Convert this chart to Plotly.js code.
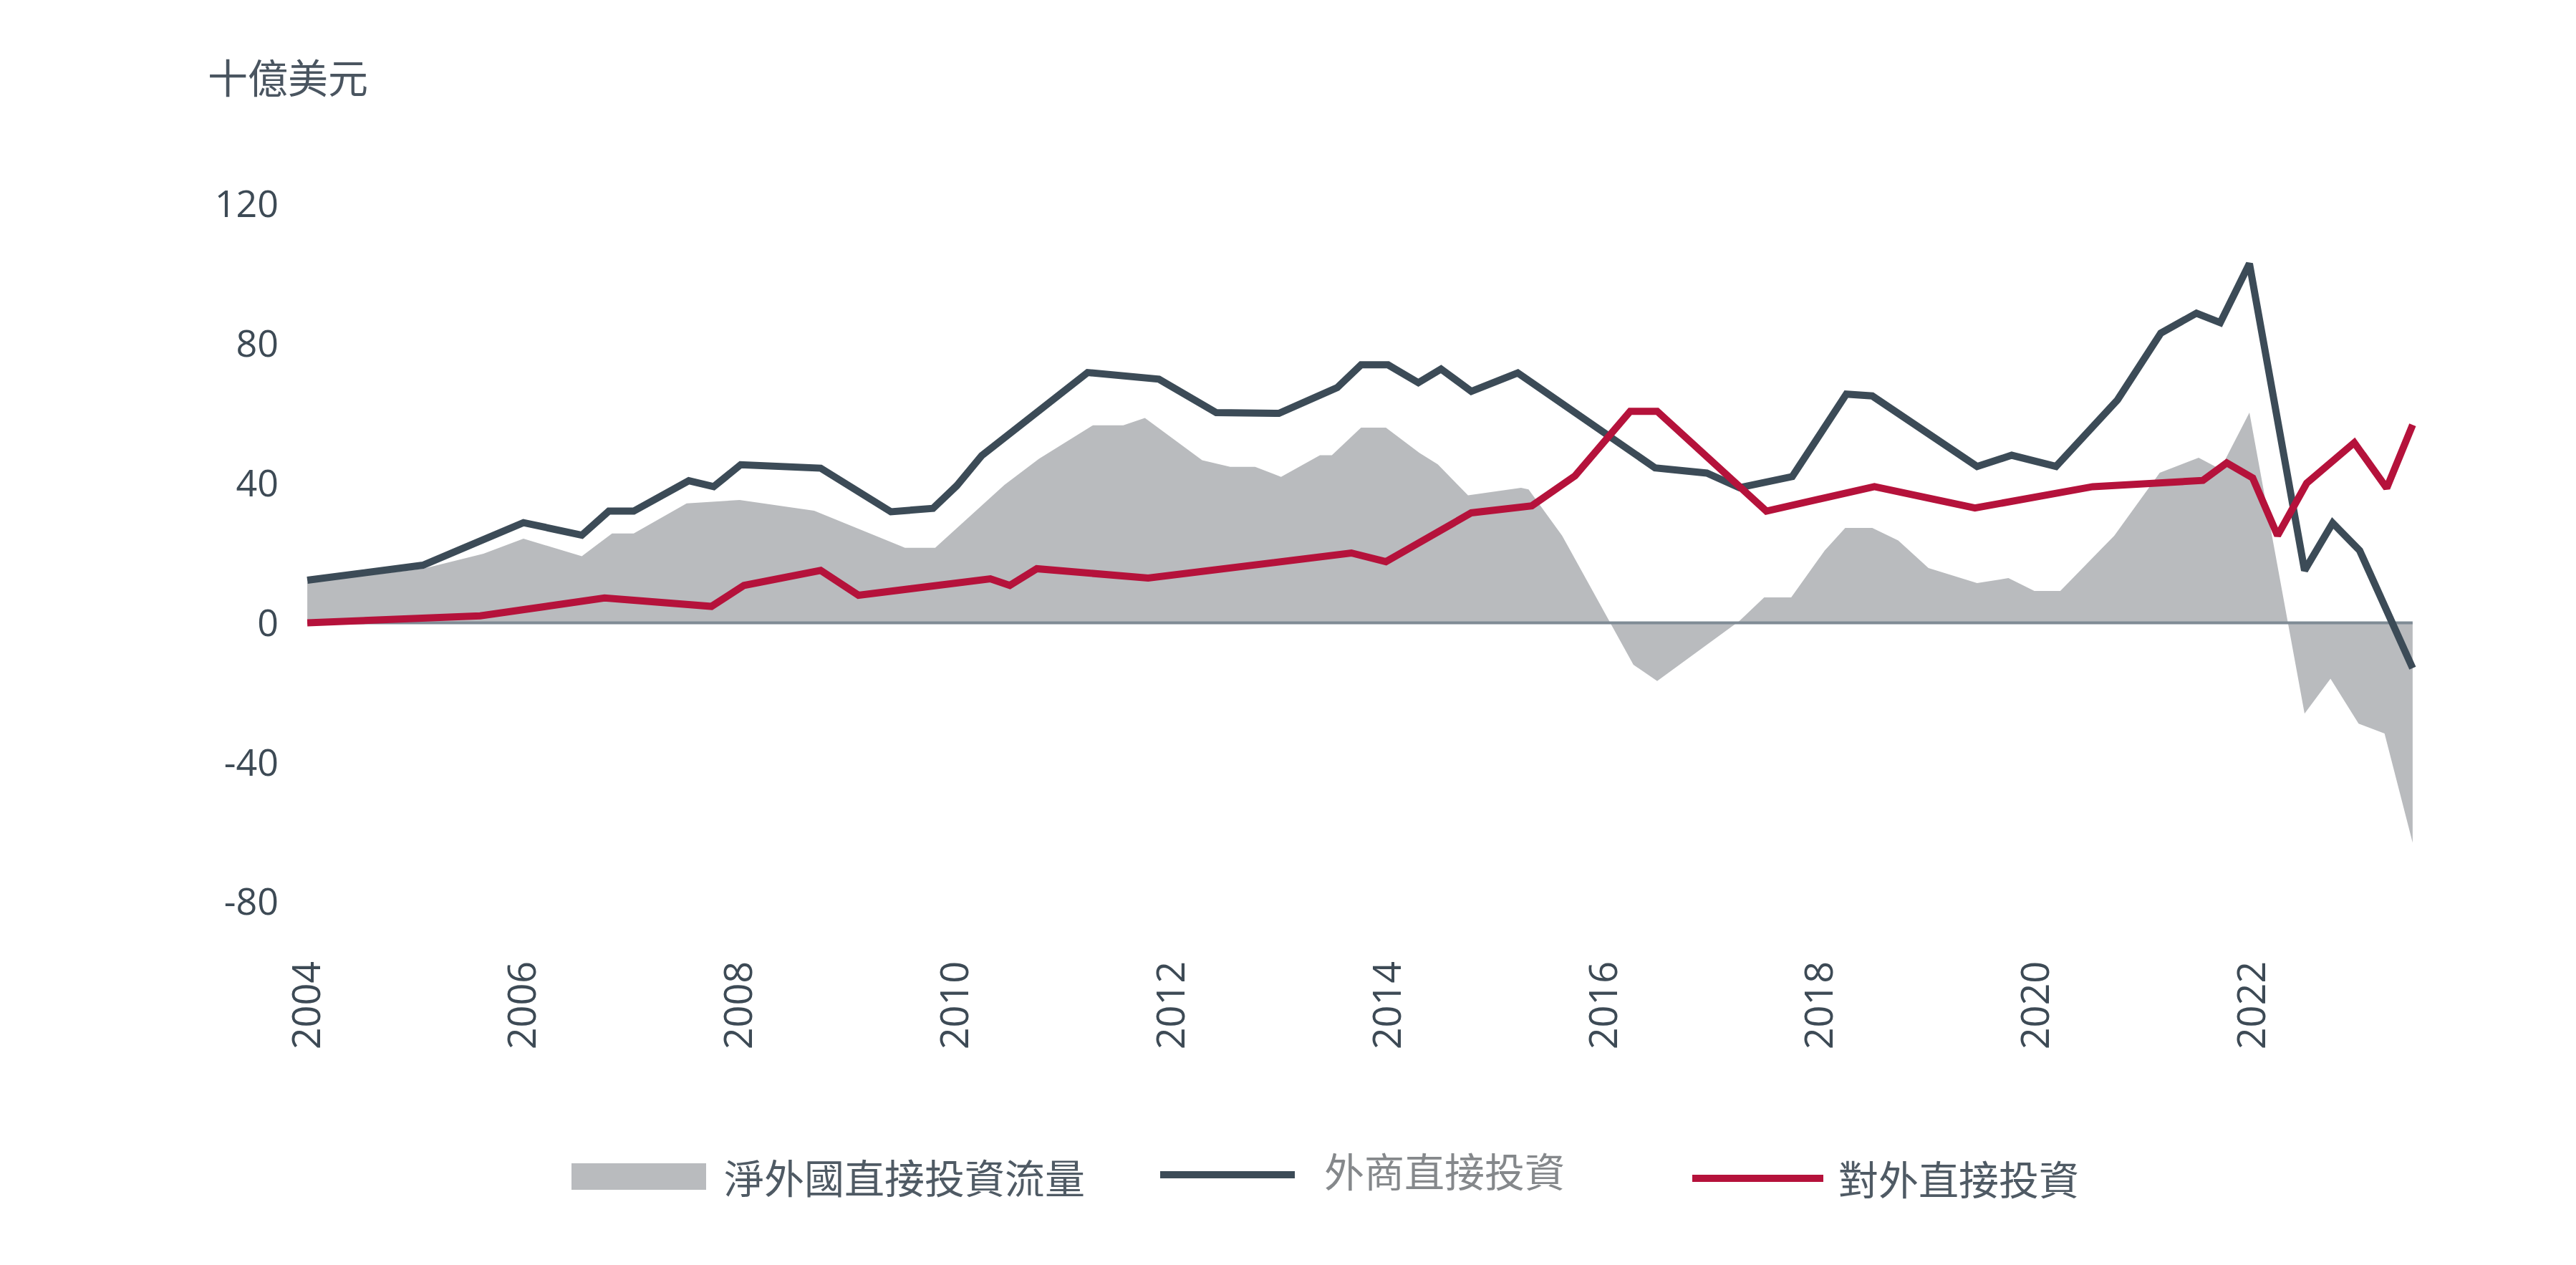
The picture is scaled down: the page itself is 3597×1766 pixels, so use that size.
<!DOCTYPE html>
<html>
<head>
<meta charset="utf-8">
<script src="https://cdn.plot.ly/plotly-3.0.1.min.js"></script>
<style>
  html, body { margin: 0; padding: 0; background: #ffffff; }
  #chart { width: 3597px; height: 1766px; }
</style>
</head>
<body>
<div id="chart"></div>
<script>
// ---- Data (billions of US$) ----
const seriesNames = ['淨外國直接投資流量', '外商直接投資', '對外直接投資'];
const unitLabel = '十億美元';

// Net FDI flow (grey area)
const netYears = [2004.0, 2005.07, 2005.63, 2006.0, 2006.54, 2006.82, 2007.02, 2007.51, 2008.0, 2008.69,
  2009.53, 2009.81, 2010.45, 2010.77, 2011.27, 2011.55, 2011.75, 2012.28, 2012.54, 2012.77,
  2013.01, 2013.37, 2013.48, 2013.75, 2013.98, 2014.29, 2014.46, 2014.74, 2015.23, 2015.3,
  2015.61, 2016.27, 2016.49, 2017.25, 2017.48, 2017.73, 2018.04, 2018.23, 2018.48, 2018.72,
  2019.0, 2019.45, 2019.74, 2019.98, 2020.22, 2020.72, 2021.14, 2021.5, 2021.7, 2021.97,
  2022.48, 2022.72, 2022.98, 2023.22, 2023.48];
const netFlow = [11.5, 15.5, 19.8, 24.1, 19.1, 25.6, 25.6, 34.2, 35.2, 32.1,
  21.5, 21.5, 39.5, 47.0, 56.6, 56.6, 58.7, 46.6, 44.7, 44.7,
  41.8, 48.0, 48.0, 55.9, 55.9, 48.7, 45.4, 36.5, 38.7, 38.2,
  25.0, -12.0, -16.7, 0.5, 7.3, 7.3, 20.7, 27.2, 27.2, 23.6,
  15.7, 11.4, 12.8, 9.1, 9.1, 25.0, 43.0, 47.3, 44.0, 60.2,
  -26.0, -16.0, -28.9, -31.7, -63.0];

// Inward FDI (dark line)
const inYears = [2004.0, 2005.07, 2006.0, 2006.54, 2006.79, 2007.02, 2007.53, 2007.76, 2008.01, 2008.75,
  2009.4, 2009.79, 2010.01, 2010.24, 2011.22, 2011.88, 2012.41, 2012.99, 2013.53, 2013.75,
  2014.0, 2014.28, 2014.49, 2014.77, 2015.2, 2016.47, 2016.95, 2017.25, 2017.74, 2018.24,
  2018.48, 2019.45, 2019.77, 2020.18, 2020.75, 2021.15, 2021.48, 2021.7, 2021.97, 2022.48,
  2022.74, 2022.99, 2023.48];
const inwardFDI = [12.2, 16.5, 28.7, 25.1, 32.0, 32.0, 40.7, 39.0, 45.3, 44.3,
  31.8, 32.8, 39.3, 47.9, 71.7, 69.8, 60.2, 60.0, 67.4, 73.9,
  73.9, 68.8, 72.7, 66.3, 71.6, 44.4, 42.9, 38.7, 41.9, 65.5,
  65.0, 44.8, 48.0, 44.8, 63.9, 83.0, 88.7, 86.0, 102.9, 15.0,
  28.6, 20.7, -13.0];

// Outward FDI (red line)
const outYears = [2004.0, 2005.6, 2006.75, 2007.74, 2008.04, 2008.75, 2009.1, 2010.32, 2010.5, 2010.75,
  2011.78, 2013.66, 2013.98, 2014.77, 2015.33, 2015.73, 2016.24, 2016.49, 2017.5, 2018.5,
  2019.43, 2020.52, 2021.54, 2021.76, 2022.0, 2022.23, 2022.5, 2022.94, 2023.24, 2023.48];
const outwardFDI = [0.0, 2.0, 7.1, 4.7, 10.7, 15.0, 7.9, 12.6, 10.7, 15.5,
  12.8, 20.0, 17.5, 31.5, 33.5, 42.1, 60.6, 60.6, 32.0, 39.0,
  32.9, 39.0, 40.8, 45.8, 41.5, 25.0, 40.0, 51.6, 38.6, 56.7];

const yTicks = [-80, -40, 0, 40, 80, 120];
const xTicks = [2004, 2006, 2008, 2010, 2012, 2014, 2016, 2018, 2020, 2022];

// ---- Style ----
const colNet = '#b9bbbe';
const colIn = '#3c4b57';
const colOut = '#b5123b';
const colZero = '#7f8b95';
const colText = '#3d4a55';
const numFont = '"Open Sans", "Noto Sans", sans-serif';
const cjkFont = '"Noto Sans CJK TC", "Noto Sans CJK SC", sans-serif';

const W = 3597, H = 1766;
const M = { l: 414, r: 210, t: 236, b: 458 };
const pw = W - M.l - M.r, ph = H - M.t - M.b;
const px = v => (v - M.l) / pw;       // pixel x -> paper
const py = v => (H - M.b - v) / ph;   // pixel y -> paper

const allYears = netYears.concat(inYears, outYears);
const xMin = Math.min(...allYears), xMax = Math.max(...allYears);

const traces = [
  { x: netYears, y: netFlow, type: 'scatter', mode: 'lines', fill: 'tozeroy',
    fillcolor: colNet, line: { width: 0, color: colNet }, name: seriesNames[0], hoverinfo: 'x+y' },
  { x: [xMin, xMax], y: [0, 0], type: 'scatter', mode: 'lines',
    line: { width: 4, color: colZero }, hoverinfo: 'skip', showlegend: false },
  { x: inYears, y: inwardFDI, type: 'scatter', mode: 'lines',
    line: { width: 10, color: colIn, shape: 'linear' }, name: seriesNames[1] },
  { x: outYears, y: outwardFDI, type: 'scatter', mode: 'lines',
    line: { width: 10, color: colOut, shape: 'linear' }, name: seriesNames[2] }
];

// Custom legend (large samples as in the reference)
const legY = [1640, 1640, 1645];
const shapes = [
  { type: 'rect', xref: 'paper', yref: 'paper', x0: px(798), x1: px(986), y0: py(1661), y1: py(1624),
    fillcolor: colNet, line: { width: 0 } },
  { type: 'line', xref: 'paper', yref: 'paper', x0: px(1620), x1: px(1808), y0: py(legY[1]), y1: py(legY[1]),
    line: { width: 10, color: colIn } },
  { type: 'line', xref: 'paper', yref: 'paper', x0: px(2363), x1: px(2546), y0: py(legY[2]), y1: py(legY[2]),
    line: { width: 10, color: colOut } }
];
const legX = [1009, 1847, 2565];
const legTY = [1641, 1632, 1643];
const legCol = ['#4f5a64', '#85888b', '#4f5a64'];
const annotations = seriesNames.map((n, i) => ({
  text: n, xref: 'paper', yref: 'paper', x: px(legX[i]), y: py(legTY[i]),
  xanchor: 'left', yanchor: 'middle', showarrow: false,
  font: { family: cjkFont, size: 56, color: legCol[i] }
}));

const layout = {
  width: W, height: H,
  margin: M,
  paper_bgcolor: '#ffffff', plot_bgcolor: '#ffffff',
  showlegend: false,
  title: { text: unitLabel, x: 290 / W, xref: 'container', xanchor: 'left',
           y: 1 - 110 / H, yref: 'container', yanchor: 'middle',
           font: { family: cjkFont, size: 56, color: '#4a5560' } },
  xaxis: {
    range: [2003.9, 2023.6], tickmode: 'array', tickvals: xTicks, ticktext: xTicks.map(String),
    tickangle: -90, showgrid: false, zeroline: false, showline: false, ticks: '',
    ticklabelstandoff: 22,
    tickfont: { family: numFont, size: 54, color: colText }
  },
  yaxis: {
    range: [-90, 130], tickmode: 'array', tickvals: yTicks, ticktext: yTicks.map(String),
    showgrid: false, zeroline: false, showline: false, ticks: '',
    ticklabelstandoff: 24,
    tickfont: { family: numFont, size: 52, color: colText }
  },
  shapes: shapes,
  annotations: annotations
};

Plotly.newPlot('chart', traces, layout, { staticPlot: true, displayModeBar: false });
</script>
</body>
</html>
